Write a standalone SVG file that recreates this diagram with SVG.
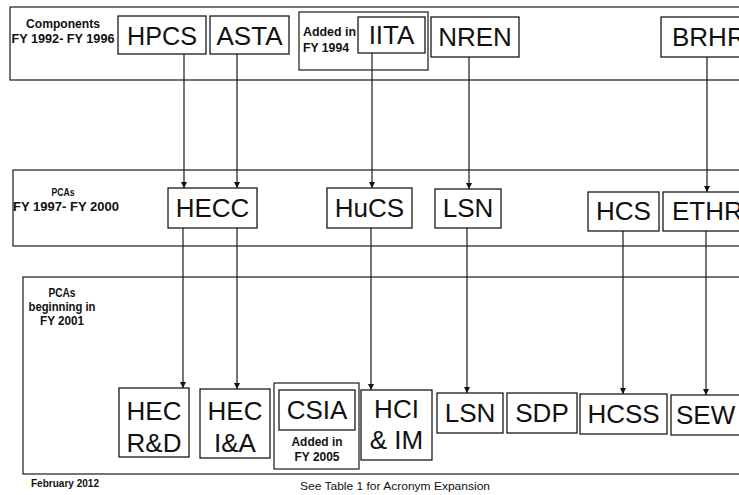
<svg xmlns="http://www.w3.org/2000/svg" width="739" height="495" viewBox="0 0 739 495">
<defs>
<style>
.band{fill:none;stroke:#1a1a1a;stroke-width:1.2}
.box{fill:#fff;stroke:#1a1a1a;stroke-width:1.3}
.big{font-family:"Liberation Sans",Arial,sans-serif;font-size:26px;fill:#111;text-anchor:middle}
.lbl{font-family:"Liberation Sans",Arial,sans-serif;font-size:12px;font-weight:bold;fill:#111}
.c{text-anchor:middle}
.conn line{stroke:#1a1a1a;stroke-width:1.2;marker-end:url(#arr)}
</style>
<marker id="arr" viewBox="0 0 10 10" refX="10" refY="5" markerWidth="6" markerHeight="6" markerUnits="userSpaceOnUse" orient="auto">
<path d="M0,0 L10,5 L0,10 z" fill="#111"/>
</marker>
</defs>
<rect width="739" height="495" fill="#fff"/>

<g id="bands">
<rect class="band" x="10" y="7" width="740" height="73"/>
<rect class="band" x="13" y="170" width="740" height="76"/>
<rect class="band" x="23" y="277" width="730" height="197"/>
<text class="lbl c" x="63" y="28" textLength="74" lengthAdjust="spacingAndGlyphs">Components</text>
<text class="lbl c" x="63" y="43" textLength="103" lengthAdjust="spacingAndGlyphs">FY 1992- FY 1996</text>
<text class="lbl c" x="63" y="196" style="font-size:10.5px" textLength="23" lengthAdjust="spacingAndGlyphs">PCAs</text>
<text class="lbl c" x="66" y="211" textLength="106" lengthAdjust="spacingAndGlyphs">FY 1997- FY 2000</text>
<text class="lbl c" x="62" y="297" textLength="27" lengthAdjust="spacingAndGlyphs">PCAs</text>
<text class="lbl c" x="62" y="311" textLength="67" lengthAdjust="spacingAndGlyphs">beginning in</text>
<text class="lbl c" x="62" y="325" textLength="44" lengthAdjust="spacingAndGlyphs">FY 2001</text>
</g>

<g id="conn" class="conn">
<line x1="184" y1="54" x2="184" y2="188"/>
<line x1="237" y1="54" x2="237" y2="188"/>
<line x1="372" y1="53" x2="372" y2="188"/>
<line x1="469" y1="57" x2="469" y2="189"/>
<line x1="707" y1="57" x2="707" y2="192"/>
<line x1="183" y1="228" x2="183" y2="388"/>
<line x1="237" y1="228" x2="237" y2="389"/>
<line x1="371" y1="228" x2="371" y2="390"/>
<line x1="467" y1="228" x2="467" y2="393"/>
<line x1="623" y1="231" x2="623" y2="394"/>
<line x1="706" y1="231" x2="706" y2="395"/>
</g>

<g id="HPCS"><rect class="box" x="118" y="16" width="88" height="38"/><text class="big" x="162" y="45" textLength="70" lengthAdjust="spacingAndGlyphs">HPCS</text></g>
<g id="ASTA"><rect class="box" x="210" y="16" width="79" height="38"/><text class="big" x="249.5" y="45" textLength="66" lengthAdjust="spacingAndGlyphs">ASTA</text></g>
<g id="added1994"><rect class="band" x="299" y="12" width="129" height="58"/>
<text class="lbl" x="303" y="36" textLength="53" lengthAdjust="spacingAndGlyphs">Added in</text><text class="lbl" x="303" y="52" textLength="46" lengthAdjust="spacingAndGlyphs">FY 1994</text></g>
<g id="IITA"><rect class="box" x="358" y="17" width="67" height="36"/><text class="big" x="391.5" y="44">IITA</text></g>
<g id="NREN"><rect class="box" x="431" y="17" width="88" height="40"/><text class="big" x="475" y="46">NREN</text></g>
<g id="BRHR"><rect class="box" x="661" y="17" width="100" height="40"/><text class="big" x="672" y="46" style="text-anchor:start">BRHR</text></g>

<g id="HECC"><rect class="box" x="168" y="188" width="89" height="40"/><text class="big" x="212.5" y="217">HECC</text></g>
<g id="HuCS"><rect class="box" x="327" y="188" width="85" height="40"/><text class="big" x="369.5" y="217">HuCS</text></g>
<g id="LSN1"><rect class="box" x="435" y="189" width="66" height="39"/><text class="big" x="468" y="217">LSN</text></g>
<g id="HCS"><rect class="box" x="588" y="192" width="71" height="39"/><text class="big" x="623.5" y="220">HCS</text></g>
<g id="ETHR"><rect class="box" x="663" y="192" width="90" height="39"/><text class="big" x="672" y="220" style="text-anchor:start">ETHR</text></g>

<g id="HECRD"><rect class="box" x="119" y="388" width="70" height="69"/><text class="big" x="154" y="420">HEC</text><text class="big" x="154" y="452">R&amp;D</text></g>
<g id="HECIA"><rect class="box" x="200" y="389" width="70" height="69"/><text class="big" x="235" y="420">HEC</text><text class="big" x="235" y="452">I&amp;A</text></g>
<g id="CSIA"><rect class="band" x="274" y="383" width="85" height="86"/>
<rect class="box" x="279" y="390" width="76" height="40"/><text class="big" x="317" y="419">CSIA</text>
<text class="lbl c" x="317" y="446" textLength="51" lengthAdjust="spacingAndGlyphs">Added in</text><text class="lbl c" x="317" y="461" textLength="45" lengthAdjust="spacingAndGlyphs">FY 2005</text></g>
<g id="HCIIM"><rect class="box" x="361" y="390" width="71" height="70"/><text class="big" x="396.5" y="418">HCI</text><text class="big" x="396.5" y="449">&amp; IM</text></g>
<g id="LSN2"><rect class="box" x="437" y="393" width="66" height="40"/><text class="big" x="470" y="422">LSN</text></g>
<g id="SDP"><rect class="box" x="507" y="393" width="70" height="40"/><text class="big" x="542" y="422">SDP</text></g>
<g id="HCSS"><rect class="box" x="580" y="394" width="87" height="40"/><text class="big" x="623.5" y="423">HCSS</text></g>
<g id="SEW"><rect class="box" x="671" y="395" width="80" height="40"/><text class="big" x="676" y="424" style="text-anchor:start">SEW</text></g>

<text class="lbl" x="31" y="487" style="font-size:10px" textLength="68" lengthAdjust="spacingAndGlyphs">February 2012</text>
<text class="lbl" x="300" y="490" style="font-size:10.5px;font-weight:normal" textLength="190" lengthAdjust="spacingAndGlyphs">See Table 1 for Acronym Expansion</text>
</svg>
